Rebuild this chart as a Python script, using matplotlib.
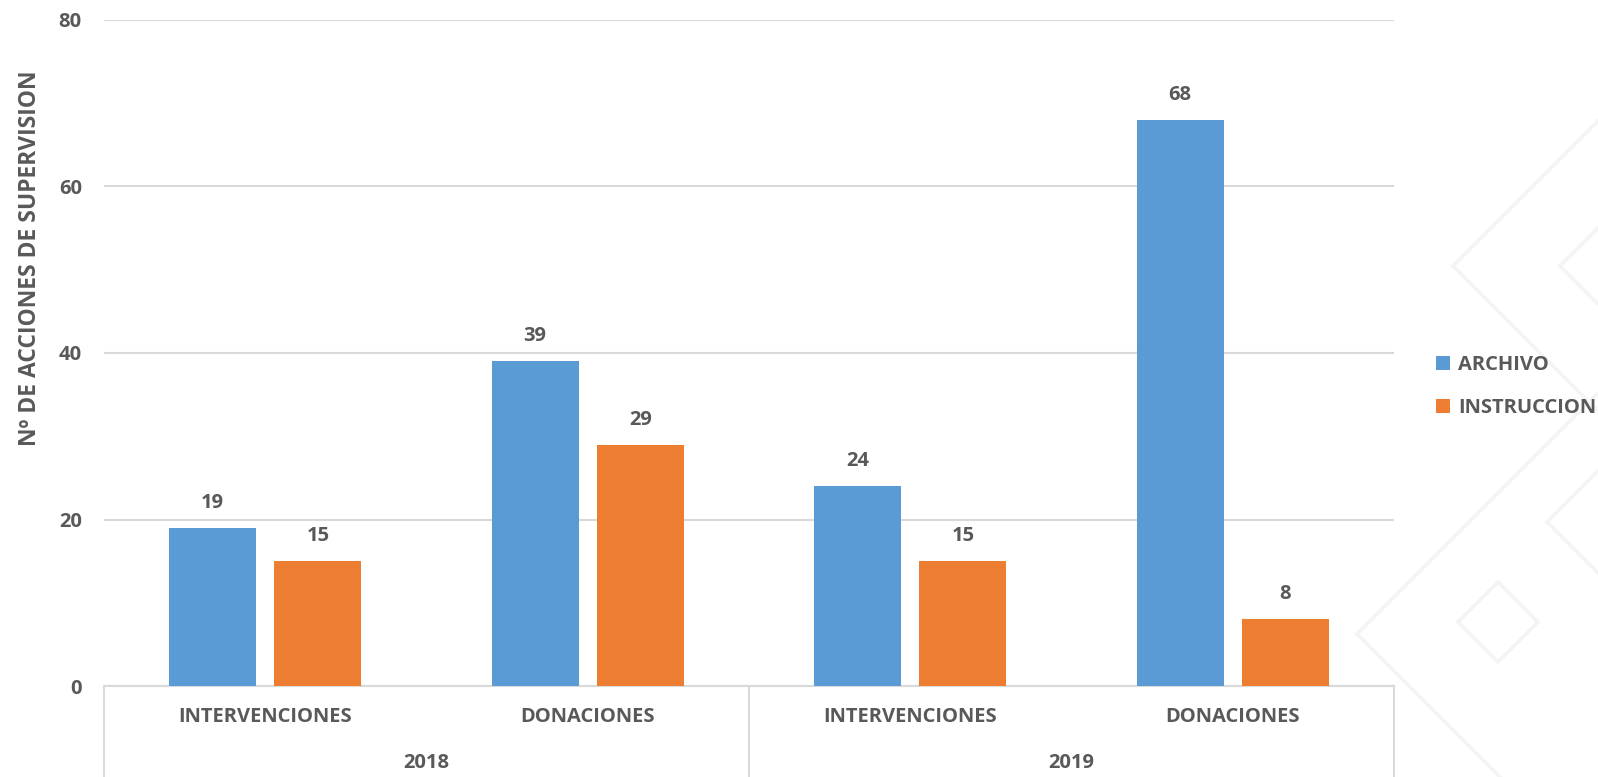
import numpy as np
import matplotlib.pyplot as plt
from matplotlib.lines import Line2D

# DATA
years = ['2018', '2019']
categories = ['INTERVENCIONES', 'DONACIONES', 'INTERVENCIONES', 'DONACIONES']
archivo = [19, 39, 24, 68]
instruccion = [15, 29, 15, 8]
series_names = ['ARCHIVO', 'INSTRUCCION']
y_ticks = [0, 20, 40, 60, 80]

BLUE = '#5B9BD5'
ORANGE = '#ED7D31'
TEXT = '#595959'
GRID = '#D9D9D9'
FS = 14.5

plt.rcParams['font.family'] = ['Open Sans', 'DejaVu Sans']
plt.rcParams['font.weight'] = 'bold'

W, H = 1598, 777
fig = plt.figure(figsize=(W / 100, H / 100), dpi=100)

# faint diamond watermark in the background (pixel coords)
bg = fig.add_axes([0, 0, 1, 1], zorder=-1)
bg.set_xlim(0, W)
bg.set_ylim(H, 0)
bg.axis('off')
for cx, cy, r in [(1600, 266, 147), (1600, 266, 40), (1597, 634, 240),
                  (1498, 622, 40), (1640, 522, 93)]:
    bg.plot([cx - r, cx, cx + r, cx, cx - r], [cy, cy - r, cy, cy + r, cy],
            color='#F4F4F4', lw=2.5)

# MAIN AXES
left, right, top, bottom = 104, 1394, 20, 686
ax = fig.add_axes([left / W, 1 - bottom / H, (right - left) / W, (bottom - top) / H])
ax.patch.set_alpha(0)

x = np.arange(len(categories))
bw = 0.27
off = 0.163
b1 = ax.bar(x - off, archivo, bw, color=BLUE, label=series_names[0], zorder=3)
b2 = ax.bar(x + off, instruccion, bw, color=ORANGE, label=series_names[1], zorder=3)

for bars, vals in [(b1, archivo), (b2, instruccion)]:
    for rect, v in zip(bars, vals):
        ax.annotate(str(v), (rect.get_x() + rect.get_width() / 2, v),
                    xytext=(0, 18), textcoords='offset points',
                    ha='center', va='center', fontsize=FS, color=TEXT,
                    fontweight='bold')

ax.set_xlim(-0.5, len(categories) - 0.5)
ax.set_ylim(0, 80)
ax.set_yticks(y_ticks)
ax.yaxis.grid(True, color=GRID, lw=1.5, zorder=0)
ax.tick_params(axis='y', length=0, pad=16, labelsize=FS, labelcolor=TEXT)
ax.set_xticks([])
for s in ['top', 'right', 'left']:
    ax.spines[s].set_visible(False)
ax.spines['bottom'].set_color(GRID)
ax.spines['bottom'].set_linewidth(1.5)

# two-level category axis
tr = ax.get_xaxis_transform()
depth = (H - bottom) / (bottom - top)
for xv in [-0.5, 1.5, 3.5]:
    ax.add_line(Line2D([xv, xv], [0, -depth], transform=tr, color=GRID,
                       lw=1.5, clip_on=False))
cat_y = -(717 - bottom) / (bottom - top)
year_y = -(763 - bottom) / (bottom - top)
for i, c in enumerate(categories):
    ax.text(i, cat_y, c, transform=tr, ha='center', va='center',
            fontsize=FS, color=TEXT, fontweight='bold')
for j, yr in enumerate(years):
    ax.text(2 * j + 0.5, year_y, yr, transform=tr, ha='center', va='center',
            fontsize=FS, color=TEXT, fontweight='bold')

fig.text(30 / W, 1 - 258 / H, 'Nº DE ACCIONES DE SUPERVISION', rotation=90,
         ha='center', va='center', fontsize=16.5, color=TEXT, fontweight='bold')

ax.legend(loc='upper left', bbox_to_anchor=(1436 / W, 1 - 355 / H),
          bbox_transform=fig.transFigure, frameon=False, fontsize=FS,
          handlelength=0.7, handleheight=0.7, handletextpad=0.4,
          labelspacing=1.15, borderpad=0, borderaxespad=0, labelcolor=TEXT)

fig.savefig('out.png', dpi=100)
